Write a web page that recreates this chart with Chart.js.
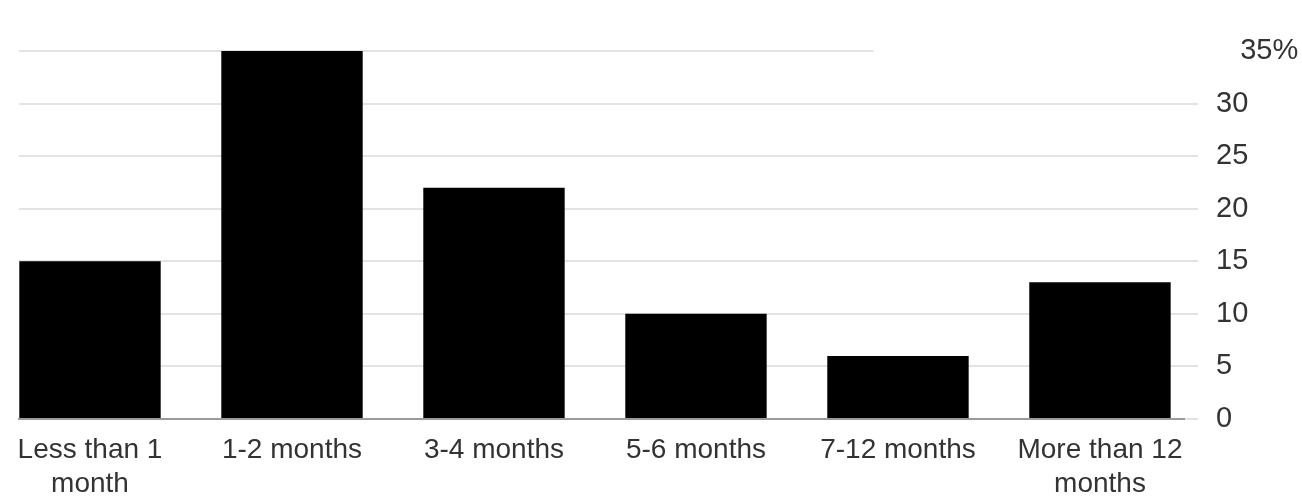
<!DOCTYPE html>
<html>
<head>
<meta charset="utf-8">
<script src="https://cdn.jsdelivr.net/npm/chart.js@4/dist/chart.umd.min.js"></script>
<style>
    html, body { margin: 0; padding: 0; background: #fff; }
    #wrap { width: 1302px; height: 499px; }
</style>
</head>
<body>
<div id="wrap"><canvas id="chart" width="1302" height="499"></canvas></div>
<script>
const categories = [
    ['Less than 1', 'month'],
    ['1-2 months'],
    ['3-4 months'],
    ['5-6 months'],
    ['7-12 months'],
    ['More than 12', 'months']
];
const shares = [15, 35, 22, 10, 6, 13];
const yTicks = [0, 5, 10, 15, 20, 25, 30, 35];

const TEXT = '#333333';
const FONT = 'Liberation Sans, Arial, Helvetica, sans-serif';

// the legend box that was blanked out in the source picture
const blankBox = {
    id: 'blankBox',
    afterDraw(chart) {
        const { ctx, scales: { x, y } } = chart;
        const top = y.getPixelForValue(35);
        const left = x.getPixelForValue(3.88);
        ctx.save();
        ctx.fillStyle = '#ffffff';
        ctx.fillRect(left, top - 8, y.left + 46 - left, 16);
        ctx.restore();
    }
};

new Chart(document.getElementById('chart'), {
    type: 'bar',
    data: {
        datasets: [{
            data: shares.map((v, i) => ({ x: i, y: v })),
            backgroundColor: '#000000',
            borderWidth: 0,
            barPercentage: 0.7,
            categoryPercentage: 1.0,
        }],
    },
    options: {
        responsive: false,
        animation: false,
        layout: { padding: { left: 19, top: 51, right: 0, bottom: 0 } },
        plugins: { legend: { display: false }, tooltip: { enabled: false } },
        scales: {
            x: {
                type: 'linear',
                offset: false,
                min: -0.3515,
                max: 5.416,
                grid: { display: false, drawTicks: false, offset: false },
                border: { display: true, color: '#9a9a9a', width: 2 },
                afterFit: (scale) => { scale.height = 80; },
                ticks: {
                    stepSize: 1,
                    includeBounds: false,
                    autoSkip: false,
                    maxRotation: 0,
                    padding: 14,
                    color: TEXT,
                    font: { family: FONT, size: 28, lineHeight: 1.22 },
                    callback: (v) => categories[v] || '',
                },
            },
            y: {
                position: 'right',
                min: 0,
                max: 35,
                grid: { color: '#e3e3e3', lineWidth: 2, tickLength: 14, drawTicks: true },
                border: { display: false },
                afterFit: (scale) => { scale.width = 118; },
                afterBuildTicks: (scale) => { scale.ticks = yTicks.map(v => ({ value: v })); },
                ticks: {
                    padding: 18,
                    color: TEXT,
                    font: { family: FONT, size: 29 },
                    callback: (v) => v === 35 ? '   35%' : String(v),
                },
            },
        },
    },
    plugins: [blankBox],
});
</script>
</body>
</html>
